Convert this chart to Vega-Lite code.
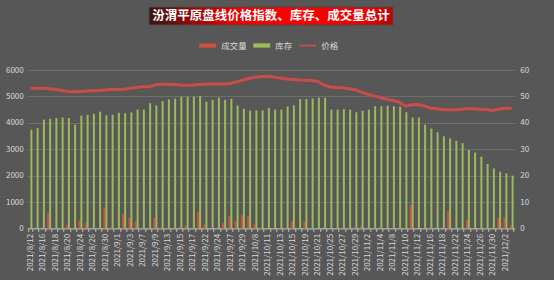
{
  "$schema": "https://vega.github.io/schema/vega-lite/v6.json",
  "background": "#575757",
  "padding": {"left": 5, "top": 6, "right": 26, "bottom": 4},
  "spacing": 45,
  "center": true,
  "bounds": "flush",
  "config": {
    "font": "Noto Sans CJK SC",
    "view": {"stroke": null},
    "axis": {"labelColor": "#d9d9d9", "labelFont": "Noto Sans CJK SC", "title": null},
    "legend": {"layout": {"top": {"anchor": "middle"}}}
  },
  "resolve": {"legend": {"color": "independent"}},
  "vconcat": [
    {
      "width": 244,
      "height": 18,
      "data": {"values": [{"t": "汾渭平原盘线价格指数、库存、成交量总计"}]},
      "layer": [
        {
          "mark": {
            "type": "rect",
            "stroke": "#4a4a4a",
            "strokeWidth": 1,
            "fill": {
              "gradient": "radial",
              "x1": 0.62, "y1": 0.5, "r1": 0,
              "x2": 0.62, "y2": 0.5, "r2": 0.62,
              "stops": [
                {"offset": 0, "color": "#ff0000"},
                {"offset": 0.45, "color": "#e80000"},
                {"offset": 1, "color": "#3a1414"}
              ]
            }
          },
          "encoding": {}
        },
        {
          "mark": {"type": "text", "color": "#ffffff", "fontSize": 12.5, "fontWeight": "bold", "font": "Noto Sans CJK SC"},
          "encoding": {"text": {"field": "t"}}
        }
      ]
    },
    {
      "width": 487.5,
      "height": 158.4,
      "data": {
        "values": [
          {"date": "2021/8/12", "成交量": 0, "库存": 3740, "价格": 53.1},
          {"date": "2021/8/13", "成交量": 0, "库存": 3800, "价格": 53.1},
          {"date": "2021/8/16", "成交量": 0, "库存": 4120, "价格": 53.1},
          {"date": "2021/8/17", "成交量": 590, "库存": 4150, "价格": 52.9},
          {"date": "2021/8/18", "成交量": 0, "库存": 4180, "价格": 52.7},
          {"date": "2021/8/19", "成交量": 0, "库存": 4200, "价格": 52.2},
          {"date": "2021/8/20", "成交量": 130, "库存": 4180, "价格": 51.9},
          {"date": "2021/8/23", "成交量": 0, "库存": 3930, "价格": 51.8},
          {"date": "2021/8/24", "成交量": 295, "库存": 4270, "价格": 51.9},
          {"date": "2021/8/25", "成交量": 210, "库存": 4300, "价格": 52.0},
          {"date": "2021/8/26", "成交量": 0, "库存": 4340, "价格": 52.1},
          {"date": "2021/8/27", "成交量": 0, "库存": 4420, "价格": 52.2},
          {"date": "2021/8/30", "成交量": 790, "库存": 4280, "价格": 52.4},
          {"date": "2021/8/31", "成交量": 40, "库存": 4300, "价格": 52.7},
          {"date": "2021/9/1", "成交量": 0, "库存": 4380, "价格": 52.6},
          {"date": "2021/9/2", "成交量": 550, "库存": 4360, "价格": 52.7},
          {"date": "2021/9/3", "成交量": 410, "库存": 4390, "价格": 53.1},
          {"date": "2021/9/6", "成交量": 265, "库存": 4500, "价格": 53.4},
          {"date": "2021/9/7", "成交量": 0, "库存": 4500, "价格": 53.7},
          {"date": "2021/9/8", "成交量": 0, "库存": 4740, "价格": 53.7},
          {"date": "2021/9/9", "成交量": 400, "库存": 4660, "价格": 54.4},
          {"date": "2021/9/10", "成交量": 30, "库存": 4820, "价格": 54.6},
          {"date": "2021/9/13", "成交量": 0, "库存": 4890, "价格": 54.6},
          {"date": "2021/9/14", "成交量": 0, "库存": 4920, "价格": 54.5},
          {"date": "2021/9/15", "成交量": 0, "库存": 4990, "价格": 54.3},
          {"date": "2021/9/16", "成交量": 110, "库存": 4990, "价格": 54.2},
          {"date": "2021/9/17", "成交量": 0, "库存": 4990, "价格": 54.3},
          {"date": "2021/9/18", "成交量": 630, "库存": 5020, "价格": 54.5},
          {"date": "2021/9/22", "成交量": 150, "库存": 4800, "价格": 54.6},
          {"date": "2021/9/23", "成交量": 0, "库存": 4870, "价格": 54.7},
          {"date": "2021/9/24", "成交量": 0, "库存": 4960, "价格": 54.7},
          {"date": "2021/9/26", "成交量": 200, "库存": 4870, "价格": 54.7},
          {"date": "2021/9/27", "成交量": 470, "库存": 4910, "价格": 54.9},
          {"date": "2021/9/28", "成交量": 290, "库存": 4650, "价格": 55.5},
          {"date": "2021/9/29", "成交量": 500, "库存": 4530, "价格": 56.2},
          {"date": "2021/9/30", "成交量": 480, "库存": 4460, "价格": 56.8},
          {"date": "2021/10/8", "成交量": 150, "库存": 4470, "价格": 57.3},
          {"date": "2021/10/9", "成交量": 30, "库存": 4470, "价格": 57.5},
          {"date": "2021/10/11", "成交量": 0, "库存": 4560, "价格": 57.6},
          {"date": "2021/10/12", "成交量": 0, "库存": 4500, "价格": 57.3},
          {"date": "2021/10/13", "成交量": 0, "库存": 4500, "价格": 57.0},
          {"date": "2021/10/14", "成交量": 0, "库存": 4620, "价格": 56.6},
          {"date": "2021/10/15", "成交量": 290, "库存": 4660, "价格": 56.4},
          {"date": "2021/10/18", "成交量": 0, "库存": 4900, "价格": 56.2},
          {"date": "2021/10/19", "成交量": 260, "库存": 4900, "价格": 56.1},
          {"date": "2021/10/20", "成交量": 0, "库存": 4920, "价格": 56.0},
          {"date": "2021/10/21", "成交量": 0, "库存": 4950, "价格": 55.7},
          {"date": "2021/10/22", "成交量": 0, "库存": 4950, "价格": 54.2},
          {"date": "2021/10/25", "成交量": 0, "库存": 4500, "价格": 53.6},
          {"date": "2021/10/26", "成交量": 0, "库存": 4500, "价格": 53.4},
          {"date": "2021/10/27", "成交量": 0, "库存": 4520, "价格": 53.3},
          {"date": "2021/10/28", "成交量": 20, "库存": 4500, "价格": 52.9},
          {"date": "2021/10/29", "成交量": 30, "库存": 4400, "价格": 52.5},
          {"date": "2021/11/1", "成交量": 80, "库存": 4460, "价格": 51.6},
          {"date": "2021/11/2", "成交量": 0, "库存": 4500, "价格": 50.8},
          {"date": "2021/11/3", "成交量": 0, "库存": 4630, "价格": 50.2},
          {"date": "2021/11/4", "成交量": 0, "库存": 4630, "价格": 49.6},
          {"date": "2021/11/5", "成交量": 0, "库存": 4650, "价格": 48.9},
          {"date": "2021/11/8", "成交量": 0, "库存": 4630, "价格": 48.5},
          {"date": "2021/11/9", "成交量": 0, "库存": 4610, "价格": 47.8},
          {"date": "2021/11/10", "成交量": 0, "库存": 4400, "价格": 46.3},
          {"date": "2021/11/11", "成交量": 890, "库存": 4200, "价格": 46.8},
          {"date": "2021/11/12", "成交量": 0, "库存": 4200, "价格": 46.9},
          {"date": "2021/11/15", "成交量": 0, "库存": 3930, "价格": 46.4},
          {"date": "2021/11/16", "成交量": 0, "库存": 3780, "价格": 45.6},
          {"date": "2021/11/17", "成交量": 0, "库存": 3640, "价格": 45.3},
          {"date": "2021/11/18", "成交量": 0, "库存": 3490, "价格": 45.0},
          {"date": "2021/11/19", "成交量": 660, "库存": 3410, "价格": 44.9},
          {"date": "2021/11/22", "成交量": 0, "库存": 3320, "价格": 44.9},
          {"date": "2021/11/23", "成交量": 30, "库存": 3230, "价格": 45.1},
          {"date": "2021/11/24", "成交量": 340, "库存": 2970, "价格": 45.3},
          {"date": "2021/11/25", "成交量": 0, "库存": 2870, "价格": 45.3},
          {"date": "2021/11/26", "成交量": 0, "库存": 2720, "价格": 45.1},
          {"date": "2021/11/29", "成交量": 0, "库存": 2440, "价格": 45.0},
          {"date": "2021/11/30", "成交量": 0, "库存": 2270, "价格": 44.7},
          {"date": "2021/12/1", "成交量": 400, "库存": 2150, "价格": 45.2},
          {"date": "2021/12/2", "成交量": 410, "库存": 2080, "价格": 45.5},
          {"date": "2021/12/3", "成交量": 100, "库存": 2000, "价格": 45.5}
        ]
      },
      "encoding": {
        "x": {
          "field": "date",
          "type": "ordinal",
          "sort": null,
          "scale": {"paddingInner": 0.36, "paddingOuter": 0.18},
          "axis": {
            "labelAngle": -90,
            "labelFontSize": 8,
            "labelExpr": "round(datum.index * 77) % 2 == 0 ? datum.label : ''",
            "labelPadding": 2,
            "domainColor": "#bfbfbf",
            "tickColor": "#bfbfbf",
            "tickSize": 3,
            "tickBand": "extent",
            "grid": false,
            "labelOverlap": false
          }
        }
      },
      "layer": [
        {
          "transform": [{"fold": ["成交量", "库存"], "as": ["series", "value"]}],
          "mark": {"type": "bar"},
          "encoding": {
            "xOffset": {"field": "series", "sort": ["成交量", "库存"], "scale": {"paddingInner": 0, "paddingOuter": 0}},
            "y": {
              "field": "value",
              "type": "quantitative",
              "scale": {"domain": [0, 6000], "nice": false},
              "axis": {
                "orient": "left",
                "values": [0, 1000, 2000, 3000, 4000, 5000, 6000],
                "format": "d",
                "domain": false,
                "ticks": false,
                "labelFontSize": 8,
                "labelPadding": 4,
                "gridColor": "#8c8c8c",
                "gridOpacity": 0.45
              }
            },
            "color": {
              "field": "series",
              "type": "nominal",
              "scale": {"domain": ["成交量", "库存", "价格"], "range": ["#cf5240", "#9bbb59", "#c0504d"]},
              "legend": {
                "orient": "top",
                "direction": "horizontal",
                "title": null,
                "labelColor": "#d9d9d9",
                "labelFontSize": 8.5,
                "symbolType": "M-2,-0.5H2V0.5H-2Z",
                "symbolSize": 72,
                "symbolStrokeWidth": 0,
                "labelOffset": 9,
                "columnPadding": 6,
                "offset": 20,
                "encode": {
                  "symbols": {
                    "update": {
                      "shape": {"signal": "datum.value === '价格' ? 'M-2,-0.22H2V0.22H-2Z' : 'M-2,-0.5H2V0.5H-2Z'"},
                      "fill": {"signal": "datum.value === '成交量' ? '#cf5240' : datum.value === '库存' ? '#9bbb59' : '#c0504d'"},
                      "stroke": {"value": "transparent"},
                      "opacity": {"value": 1}
                    }
                  }
                }
              }
            }
          }
        },
        {
          "mark": {"type": "line", "strokeWidth": 5, "opacity": 0.3, "color": "#a03c3a"},
          "encoding": {
            "y": {"field": "价格", "type": "quantitative", "scale": {"domain": [0, 60], "nice": false}, "axis": null}
          }
        },
        {
          "mark": {"type": "line", "strokeWidth": 3},
          "encoding": {
            "y": {
              "field": "价格",
              "type": "quantitative",
              "scale": {"domain": [0, 60], "nice": false},
              "axis": {
                "orient": "right",
                "values": [0, 10, 20, 30, 40, 50, 60],
                "domain": false,
                "ticks": false,
                "grid": false,
                "labelFontSize": 8,
                "labelPadding": 5
              }
            },
            "color": {"datum": "价格"}
          }
        }
      ],
      "resolve": {"scale": {"y": "independent"}}
    }
  ]
}
